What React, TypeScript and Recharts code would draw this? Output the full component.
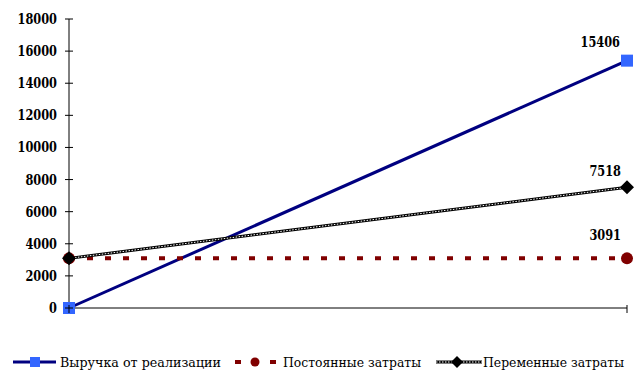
import { LineChart, Line, XAxis, YAxis, LabelList } from 'recharts';

const categories = ['Начало', 'Конец'];
const revenue = [0, 15406];
const fixedCosts = [3091, 3091];
const variableCosts = [3091, 7518];
const yTicks = [0, 2000, 4000, 6000, 8000, 10000, 12000, 14000, 16000, 18000];

const data = categories.map((name, i) => ({
  name,
  revenue: revenue[i],
  fixed: fixedCosts[i],
  variable: variableCosts[i],
}));

const FONT = 'DejaVu Serif';
const AXIS_X = 69;

// bold number text squeezed to a Times-like width (8px per digit)
const Num = ({ x, y, value, anchor }: any) => {
  const s = String(value);
  return (
    <text
      x={x}
      y={y}
      textAnchor={anchor}
      fontFamily={FONT}
      fontWeight="bold"
      fontSize={14}
      fill="#000"
      textLength={s.length * 7.9}
      lengthAdjust="spacingAndGlyphs"
    >
      {s}
    </text>
  );
};

const YTick = (props: any) => {
  const { y, payload } = props;
  return (
    <g>
      <line x1={AXIS_X - 4} x2={AXIS_X + 4} y1={y} y2={y} stroke="#000" />
      <Num x={57} y={y + 5} value={payload.value} anchor="end" />
    </g>
  );
};

const XTick = (props: any) => {
  const { x } = props;
  return <line x1={x} x2={x} y1={305} y2={313} stroke="#000" />;
};

const SquareDot = (props: any) => {
  const { cx, cy } = props;
  return <rect x={cx - 6} y={cy - 6} width={12} height={12} fill="#3366FF" />;
};
const CircleDot = (props: any) => {
  const { cx, cy } = props;
  return <circle cx={cx} cy={cy} r={6} fill="#800000" />;
};
const DiamondDot = (props: any) => {
  const { cx, cy } = props;
  return <path d={`M${cx},${cy - 7}L${cx + 7},${cy}L${cx},${cy + 7}L${cx - 7},${cy}Z`} fill="#000" />;
};

const endLabel = (dx: number, dy: number) => (props: any) => {
  const { x, y, value, index } = props;
  if (index !== data.length - 1) return null;
  return <Num x={x + dx} y={y + dy} value={value} anchor="end" />;
};

const LegendText = ({ x, w, children }: any) => (
  <text x={x} y={17} textLength={w} lengthAdjust="spacingAndGlyphs">
    {children}
  </text>
);

const LegendBox = () => (
  <svg width={635} height={24} style={{ display: 'block' }}>
    <g fontFamily={FONT} fontSize={12.5} fill="#000">
      <line x1={13} x2={56} y1={12} y2={12} stroke="#000080" strokeWidth={3} />
      <rect x={30} y={7} width={10} height={10} fill="#3366FF" />
      <LegendText x={60} w={161}>Выручка от реализации</LegendText>

      <line x1={235} x2={241} y1={12} y2={12} stroke="#800000" strokeWidth={4} />
      <circle cx={255} cy={12} r={4.5} fill="#800000" />
      <line x1={270} x2={276} y1={12} y2={12} stroke="#800000" strokeWidth={4} />
      <LegendText x={283} w={138}>Постоянные затраты</LegendText>

      <line x1={436} x2={482} y1={12} y2={12} stroke="#000" strokeWidth={3} />
      <line x1={436} x2={482} y1={12} y2={12} stroke="#fff" strokeWidth={1} strokeDasharray="1.5 1.5" />
      <path d="M457,6L463,12L457,18L451,12Z" fill="#000" />
      <LegendText x={483} w={141}>Переменные затраты</LegendText>
    </g>
  </svg>
);

export default function App() {
  return (
    <div style={{ position: 'absolute', left: 0, top: 0, width: 635, height: 379, background: '#fff' }}>
      <LineChart width={635} height={379} data={data} margin={{ top: 19, right: 8, left: 0, bottom: 61 }}>
        <XAxis
          dataKey="name"
          stroke="#000"
          height={10}
          tickLine={false}
          tick={XTick}
          interval={0}
        />
        <YAxis
          domain={[0, 18000]}
          ticks={yTicks}
          width={69}
          stroke="#000"
          tickLine={false}
          tickSize={0}
          tick={<YTick />}
          interval={0}
        />
        <Line
          dataKey="revenue"
          stroke="#000080"
          strokeWidth={3}
          dot={<SquareDot />}
          activeDot={false}
          isAnimationActive={false}
        >
          <LabelList dataKey="revenue" content={endLabel(-7, -14)} />
        </Line>
        <Line
          dataKey="fixed"
          stroke="#800000"
          strokeWidth={4}
          strokeDasharray="6 12"
          dot={<CircleDot />}
          activeDot={false}
          isAnimationActive={false}
        >
          <LabelList dataKey="fixed" content={endLabel(-6, -18)} />
        </Line>
        <Line
          dataKey="variable"
          stroke="#000"
          strokeWidth={3}
          dot={false}
          activeDot={false}
          isAnimationActive={false}
        />
        <Line
          dataKey="variable"
          stroke="#fff"
          strokeWidth={1}
          strokeDasharray="1.5 1.5"
          dot={<DiamondDot />}
          activeDot={false}
          isAnimationActive={false}
        >
          <LabelList dataKey="variable" content={endLabel(-6, -11)} />
        </Line>
      </LineChart>
      <div style={{ position: 'absolute', left: 0, top: 350 }}>
        <LegendBox />
      </div>
    </div>
  );
}
